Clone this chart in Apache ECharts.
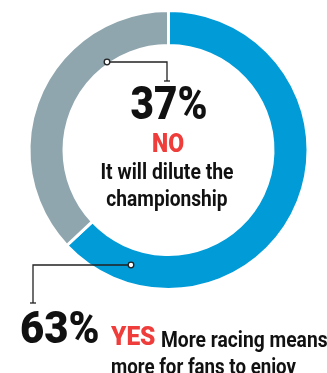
<!DOCTYPE html>
<html>
<head>
<meta charset="utf-8">
<script src="https://cdn.jsdelivr.net/npm/echarts@6/dist/echarts.min.js"></script>
<style>
html,body{margin:0;padding:0;background:#fff;}
#chart{width:327px;height:373px;}
</style>
</head>
<body>
<div id="chart"></div>
<script>
const categories = ['YES', 'NO'];
const values = [63, 37];
const colors = ['#019bd8', '#8fa6ae'];
const captions = ['More racing means\nmore for fans to enjoy', 'It will dilute the\nchampionship'];

const FONT = 'Roboto, "Open Sans", sans-serif';
const RED = '#ee3d3a';
const INK = '#111';

const chart = echarts.init(document.getElementById('chart'), null, {renderer: 'canvas'});

const capLines = captions.map(c => c.split('\n'));

function txt(x, y, text, size, color, align, sx, weight) {
  return {
    type: 'text', x: x, y: y, scaleX: sx, z: 10,
    style: {text: text, font: (weight || 'bold') + ' ' + size + 'px ' + FONT, fill: color, textAlign: align, textVerticalAlign: 'middle'}
  };
}

chart.setOption({
  animation: false,
  series: [{
    type: 'pie',
    center: [168.5, 150],
    radius: [104.5, 139.5],
    startAngle: 90,
    clockwise: true,
    silent: true,
    label: {show: false},
    labelLine: {show: false},
    itemStyle: {borderColor: '#fff', borderWidth: 3},
    data: categories.map((c, i) => ({name: c, value: values[i], itemStyle: {color: colors[i]}}))
  }],
  graphic: [
    // leader NO
    {type: 'polyline', z: 10, shape: {points: [[110, 62], [167, 62], [167, 81]]}, style: {stroke: '#222', lineWidth: 1.3, fill: null}},
    {type: 'line', z: 10, shape: {x1: 164, y1: 81, x2: 170, y2: 81}, style: {stroke: '#222', lineWidth: 1.3}},
    {type: 'circle', z: 11, shape: {cx: 107, cy: 62, r: 2.8}, style: {stroke: '#222', lineWidth: 1.3, fill: '#fff'}},
    // leader YES
    {type: 'polyline', z: 10, shape: {points: [[128, 265], [33, 265], [33, 303]]}, style: {stroke: '#222', lineWidth: 1.3, fill: null}},
    {type: 'line', z: 10, shape: {x1: 30, y1: 303, x2: 36, y2: 303}, style: {stroke: '#222', lineWidth: 1.3}},
    {type: 'circle', z: 11, shape: {cx: 131, cy: 265, r: 2.8}, style: {stroke: '#222', lineWidth: 1.3, fill: '#fff'}},
    // center texts
    txt(169, 107.5, values[1] + '%', 46, INK, 'center', 0.88, 900),
    txt(168, 145.5, categories[1], 25, RED, 'center', 0.92, 900),
    txt(167, 173.5, capLines[1][0], 22, INK, 'center', 0.88, 'bold'),
    txt(167, 200, capLines[1][1], 22, INK, 'center', 0.87, 'bold'),
    // bottom texts
    txt(20, 332, values[0] + '%', 44, INK, 'left', 0.95, 900),
    txt(111, 339, categories[0], 25, RED, 'left', 0.98, 900),
    txt(161, 341, capLines[0][0], 22, INK, 'left', 0.875, 'bold'),
    txt(111, 368, capLines[0][1], 22, INK, 'left', 0.85, 'bold')
  ]
});
</script>
</body>
</html>
